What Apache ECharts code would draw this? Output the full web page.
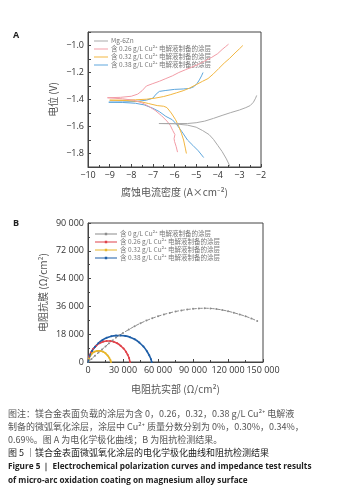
<!DOCTYPE html>
<html><head><meta charset="utf-8">
<script src="https://cdn.jsdelivr.net/npm/echarts@6/dist/echarts.min.js"></script>
<style>html,body{margin:0;padding:0;background:#fff}#c{width:356px;height:502px}</style>
</head><body><div id="c"></div>
<script>
// ---- Chart A: polarization curves [log i, E] ----
const namesA = ['Mg-6Zn', '含 0.26 g/L Cu²⁺ 电解液制备的涂层', '含 0.32 g/L Cu²⁺ 电解液制备的涂层', '含 0.38 g/L Cu²⁺ 电解液制备的涂层'];
const mg6zn = [[-3.42,-1.9],[-3.6,-1.84],[-3.8,-1.785],[-4.0,-1.74],[-4.2,-1.695],[-4.4,-1.66],[-4.7,-1.63],[-5.0,-1.605],[-5.4,-1.59],[-6.0,-1.58],[-6.72,-1.578],
  [-6.0,-1.578],[-5.4,-1.578],[-5.0,-1.572],[-4.6,-1.56],[-4.2,-1.54],[-3.8,-1.518],[-3.4,-1.497],[-3.0,-1.478],[-2.7,-1.46],[-2.5,-1.445],[-2.35,-1.42],[-2.25,-1.39],[-2.2,-1.37]];
const cu026 = [[-5.86,-1.79],[-5.92,-1.75],[-6.0,-1.71],[-6.02,-1.69],[-5.98,-1.66],[-6.08,-1.63],[-6.2,-1.59],[-6.35,-1.56],[-6.6,-1.52],[-6.9,-1.48],[-7.2,-1.45],[-7.5,-1.425],[-7.9,-1.405],[-8.4,-1.395],[-9.1,-1.387],
  [-8.5,-1.384],[-8.0,-1.376],[-7.7,-1.36],[-7.5,-1.335],[-7.3,-1.3],[-7.0,-1.282],[-6.7,-1.265],[-6.4,-1.245],[-6.1,-1.225],[-5.8,-1.2],[-5.5,-1.18],[-5.2,-1.16],[-4.9,-1.14],[-4.6,-1.115],[-4.3,-1.09],[-4.0,-1.06],[-3.8,-1.03],[-3.65,-1.01],[-3.5,-0.99]];
const cu032 = [[-5.45,-1.8],[-5.5,-1.76],[-5.58,-1.7],[-5.68,-1.65],[-5.8,-1.6],[-5.95,-1.55],[-6.15,-1.5],[-6.35,-1.46],[-6.5,-1.45],[-6.8,-1.445],[-7.2,-1.43],[-7.6,-1.415],[-8.2,-1.408],[-9.0,-1.405],
  [-8.4,-1.405],[-7.8,-1.402],[-7.3,-1.398],[-6.9,-1.39],[-6.5,-1.378],[-6.2,-1.365],[-5.9,-1.35],[-5.6,-1.335],[-5.3,-1.315],[-5.0,-1.29],[-4.7,-1.265],[-4.45,-1.245],[-4.2,-1.21],[-3.95,-1.17],[-3.7,-1.13],[-3.45,-1.095],[-3.2,-1.055],[-3.0,-1.025],[-2.84,-1.0]];
const cu038 = [[-4.65,-1.83],[-4.9,-1.78],[-5.15,-1.74],[-5.4,-1.70],[-5.65,-1.64],[-5.9,-1.585],[-6.1,-1.55],[-6.4,-1.525],[-6.7,-1.49],[-7.0,-1.465],[-7.4,-1.44],[-7.8,-1.428],[-8.4,-1.422],[-9.04,-1.42],
  [-8.4,-1.418],[-7.8,-1.415],[-7.3,-1.405],[-7.0,-1.39],[-6.85,-1.36],[-6.7,-1.34],[-6.4,-1.333],[-6.0,-1.325],[-5.6,-1.322],[-5.3,-1.318],[-5.1,-1.305],[-4.95,-1.28],[-4.85,-1.255],[-4.75,-1.225],[-4.68,-1.2]];
const colorsA = ['#a9a9a9', '#f29ca6', '#f2b640', '#5ea6dc'];
const xTicksA = [-10,-9,-8,-7,-6,-5,-4,-3,-2];
const yTicksA = [-1.8,-1.6,-1.4,-1.2,-1.0];

// ---- Chart B: Nyquist [Z', Z''] ----
const namesB = ['含 0 g/L Cu²⁺ 电解液制备的涂层', '含 0.26 g/L Cu²⁺ 电解液制备的涂层 ', '含 0.32 g/L Cu²⁺ 电解液制备的涂层 ', '含 0.38 g/L Cu²⁺ 电解液制备的涂层 '];
const nyq0 = [[0,0],[3000,2000],[6000,4100],[9000,6100],[12000,8100],[15000,10100],[18000,12100],[21000,14000],[24000,15800],[27000,17300],[30000,18800],[35000,21000],[40000,23200],[45000,25100],[50000,26800],[55000,28300],[60000,29600],[65000,30800],[70000,31800],[75000,32700],[80000,33400],[85000,34000],[90000,34400],[95000,34700],[100000,34800],[105000,34700],[110000,34300],[115000,33700],[120000,32900],[125000,31900],[130000,30800],[135000,29600],[140000,28200],[145000,26600]];
const nyq026 = [[0,0],[1000,3500],[2500,6200],[4500,8500],[7000,10500],[10000,12200],[13000,13200],[16000,13600],[19000,13600],[22000,13100],[25000,12100],[28000,10500],[30500,8700],[32500,6700],[34000,4700],[35200,2600],[36000,0]];
const nyq032 = [[0,0],[800,2200],[2000,4000],[3500,5500],[5500,6600],[8000,7200],[10500,7200],[13000,6600],[15000,5600],[16800,4200],[18200,2700],[19200,1300],[19700,0]];
const nyq038 = [[0,0],[1500,4000],[3500,7200],[6000,9800],[9000,12300],[12500,14300],[16000,15700],[20000,16700],[24000,17100],[28000,17200],[32000,16900],[36000,16100],[40000,14700],[44000,12600],[47500,10000],[50500,7000],[52500,4300],[54000,1800],[54600,0]];
const colorsB = ['#8c8c8c', '#e0424a', '#e8b62a', '#1f5fa8'];

const CJK = '"Noto Sans CJK SC", "Noto Sans", sans-serif';
const LAT = '"Open Sans", "Noto Sans", sans-serif';
const minus = v => String(v).replace('-', '−');
const thou = v => v === 0 ? '0' : String(v).replace(/\B(?=(\d{3})+(?!\d))/g, ' ');

const axisCommon = {
  axisLine: {show: true, lineStyle: {color: '#444', width: 1}},
  axisTick: {show: true, inside: true, length: 3, lineStyle: {color: '#444'}},
  minorTick: {show: true, splitNumber: 2, length: 2, lineStyle: {color: '#444'}},
  splitLine: {show: false},
  axisLabel: {color: '#333', fontSize: 9, fontFamily: LAT, margin: 4},
  nameTextStyle: {color: '#555', fontSize: 10, fontFamily: CJK}
};

const chart = echarts.init(document.getElementById('c'), null, {renderer: 'canvas'});
const seriesA = [mg6zn, cu026, cu032, cu038].map((d, i) => ({
  name: namesA[i], type: 'line', xAxisIndex: 0, yAxisIndex: 0, data: d,
  symbol: 'none', color: colorsA[i], lineStyle: {width: 1, color: colorsA[i]}, clip: true, z: 2 + (4 - i)
}));
const seriesB = [nyq0, nyq026, nyq032, nyq038].map((d, i) => ({
  name: namesB[i], type: 'line', xAxisIndex: 1, yAxisIndex: 1, data: d, smooth: 0.3,
  symbol: 'circle', symbolSize: 2, showSymbol: true, color: colorsB[i],
  itemStyle: {color: colorsB[i]},
  lineStyle: {width: i === 0 ? 1 : 1.6, color: colorsB[i], type: i === 0 ? 'dashed' : 'solid'}
}));

chart.setOption({
  animation: false,
  textStyle: {fontFamily: LAT},
  grid: [
    {left: 88, top: 32, width: 173, height: 135, show: true, borderColor: '#444', borderWidth: 1, backgroundColor: 'transparent'},
    {left: 88, top: 223, width: 175, height: 139, show: true, borderColor: '#444', borderWidth: 1, backgroundColor: 'transparent'}
  ],
  xAxis: [
    Object.assign({}, axisCommon, {gridIndex: 0, type: 'value', min: -10, max: -2, interval: 1,
      name: '腐蚀电流密度 (A×cm⁻²)', nameLocation: 'middle', nameGap: 20,
      axisLabel: Object.assign({}, axisCommon.axisLabel, {formatter: minus})}),
    Object.assign({}, axisCommon, {gridIndex: 1, type: 'value', min: 0, max: 150000, interval: 30000,
      name: '电阻抗实部 (Ω/cm²)', nameLocation: 'middle', nameGap: 22,
      axisLabel: Object.assign({}, axisCommon.axisLabel, {formatter: thou})})
  ],
  yAxis: [
    Object.assign({}, axisCommon, {gridIndex: 0, type: 'value', min: -1.9, max: -0.9, interval: 0.1,
      name: '电位 (V)', nameLocation: 'middle', nameGap: 30,
      minorTick: {show: false},
      axisLabel: Object.assign({}, axisCommon.axisLabel, {formatter: v => {
        return yTicksA.some(t => Math.abs(t - v) < 1e-6) ? minus(v.toFixed(1)) : '';
      }})}),
    Object.assign({}, axisCommon, {gridIndex: 1, type: 'value', min: 0, max: 90000, interval: 18000,
      name: '电阻抗膜 (Ω/cm²)', nameLocation: 'middle', nameGap: 40,
      axisLabel: Object.assign({}, axisCommon.axisLabel, {formatter: thou})})
  ],
  legend: [
    {data: namesA, orient: 'vertical', left: 89, top: 32, itemGap: 0, itemWidth: 14, itemHeight: 8,
      icon: 'path://M0,4 L14,4 L14,5 L0,5 Z',
      textStyle: {color: '#777', fontSize: 6.5, fontFamily: CJK, lineHeight: 8, padding: [0,0,0,-2]}},
    {data: namesB, orient: 'vertical', left: 90, top: 225, itemGap: 0, itemWidth: 22, itemHeight: 8,
      icon: 'path://M0,3.5 L22,3.5 L22,4.5 L0,4.5 Z M9.8,2.8 L12.2,2.8 L12.2,5.2 L9.8,5.2 Z',
      textStyle: {color: '#777', fontSize: 6.5, fontFamily: CJK, lineHeight: 8, padding: [0,0,0,-2]}}
  ],
  series: seriesA.concat(seriesB),
  graphic: [
    {type: 'text', left: 13, top: 31, style: {text: 'A', font: 'bold 9px ' + LAT, fill: '#222'}},
    {type: 'text', left: 13, top: 219, style: {text: 'B', font: 'bold 9px ' + LAT, fill: '#222'}},
    {type: 'text', left: 8, top: 409, style: {text: '图注：镁合金表面负载的涂层为含 0，0.26，0.32，0.38 g/L Cu²⁺ 电解液', font: '9px ' + CJK, fill: '#555'}},
    {type: 'text', left: 8, top: 422, style: {text: '制备的微弧氧化涂层，涂层中 Cu²⁺ 质量分数分别为 0%，0.30%，0.34%，', font: '9px ' + CJK, fill: '#555'}},
    {type: 'text', left: 8, top: 435, style: {text: '0.69%。图 A 为电化学极化曲线；B 为阻抗检测结果。', font: '9px ' + CJK, fill: '#555'}},
    {type: 'text', left: 8, top: 448, style: {text: '图 5 ｜镁合金表面微弧氧化涂层的电化学极化曲线和阻抗检测结果', font: '9px ' + CJK, fill: '#222'}},
    {type: 'text', left: 8, top: 463, style: {text: 'Figure 5 ｜ Electrochemical polarization curves and impedance test results', font: 'bold 8.2px ' + LAT, fill: '#222'}},
    {type: 'text', left: 8, top: 477, style: {text: 'of micro-arc oxidation coating on magnesium alloy surface', font: 'bold 8.2px ' + LAT, fill: '#222'}}
  ]
});
</script></body></html>
